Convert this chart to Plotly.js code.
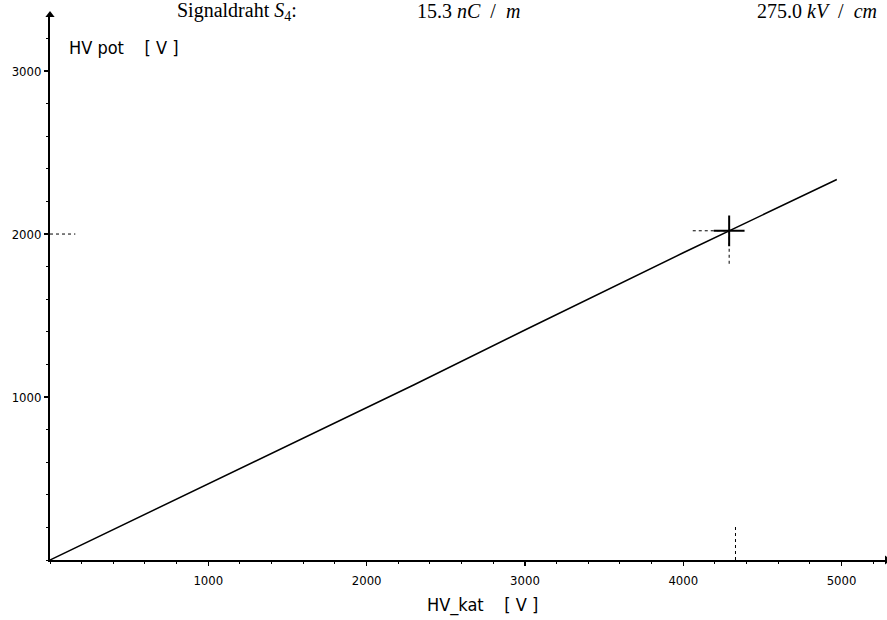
<!DOCTYPE html>
<html>
<head>
<meta charset="utf-8">
<script src="https://cdn.plot.ly/plotly-3.0.1.min.js"></script>
<style>body{margin:0;background:#fff}#chart{width:887px;height:620px}</style>
</head>
<body>
<div id="chart"></div>
<script>
// Data
var hvKat = [0, 1000, 2000, 2300, 3000, 4000, 4970];
var hvPot = [0, 467, 939, 1075, 1411, 1885, 2335];
// working point (cross marker)
var markX = [4290];
var markY = [2020];
var xTickVals = [1000, 2000, 3000, 4000, 5000];
var xTickText = ['1000', '2000', '3000', '4000', '5000'];
var yTickVals = [1000, 2000, 3000];
var yTickText = ['1000', '2000', '3000'];
var headerTexts = ['Signaldraht <i>S</i><sub>4</sub>:', '15.3 <i>nC</i>  /  <i>m</i>', '275.0 <i>kV</i>  /  <i>cm</i>'];
var xTitle = 'HV_kat    [ V ]';
var yTitle = 'HV pot    [ V ]';
var xMax = 5287, yMax = 3344;

var tickFont = {family: 'Liberation Sans Narrow, DejaVu Sans Condensed, sans-serif', size: 13, color: '#000'};
var labFont = {family: 'Liberation Sans Narrow, DejaVu Sans Condensed, sans-serif', size: 18, color: '#000'};
var serif = {family: 'Liberation Serif, DejaVu Serif, serif', size: 20, color: '#000'};

var traces = [
  {x: hvKat, y: hvPot, mode: 'lines', line: {color: '#000', width: 1.5}, hoverinfo: 'skip', showlegend: false},
  {x: markX, y: markY, mode: 'markers', marker: {symbol: 'cross-thin', size: 22, line: {color: '#000', width: 2}}, showlegend: false},
  {x: [0], y: [yMax], mode: 'markers', cliponaxis: false, marker: {symbol: 'triangle-up', size: 8, color: '#000'}, showlegend: false},
  {x: [xMax], y: [0], mode: 'markers', cliponaxis: false, marker: {symbol: 'triangle-right', size: 8, color: '#000'}, showlegend: false}
];

var layout = {
  width: 887, height: 620,
  margin: {l: 50, r: 0, t: 15, b: 60},
  paper_bgcolor: '#fff', plot_bgcolor: '#fff',
  showlegend: false,
  xaxis: {
    range: [0, xMax], showgrid: false, zeroline: false,
    showline: true, linecolor: '#000', linewidth: 2,
    tickvals: xTickVals, ticktext: xTickText,
    ticks: 'outside', ticklen: 4, tickwidth: 1.5, tickcolor: '#000',
    minor: {dtick: 200, tick0: 0, ticks: 'outside', ticklen: 2, tickcolor: '#000', tickwidth: 1},
    tickfont: tickFont, ticklabelstandoff: 3
  },
  yaxis: {
    range: [0, yMax], showgrid: false, zeroline: false,
    showline: true, linecolor: '#000', linewidth: 2,
    tickvals: yTickVals, ticktext: yTickText,
    ticks: 'outside', ticklen: 4, tickwidth: 1.5, tickcolor: '#000',
    minor: {dtick: 200, tick0: 0, ticks: 'outside', ticklen: 2, tickcolor: '#000', tickwidth: 1},
    tickfont: tickFont
  },
  shapes: [
    {type: 'line', xref: 'x', yref: 'y', x0: 0, x1: 160, y0: 2000, y1: 2000, line: {color: '#000', width: 1, dash: 'dot'}},
    {type: 'line', xref: 'x', yref: 'y', x0: 4060, x1: markX[0], y0: markY[0], y1: markY[0], line: {color: '#000', width: 1, dash: 'dot'}},
    {type: 'line', xref: 'x', yref: 'y', x0: markX[0], x1: markX[0], y0: markY[0], y1: 1810, line: {color: '#000', width: 1, dash: 'dot'}},
    {type: 'line', xref: 'x', yref: 'y', x0: 4330, x1: 4330, y0: 0, y1: 215, line: {color: '#000', width: 1, dash: 'dot'}}
  ],
  annotations: [
    {xref: 'paper', yref: 'paper', x: (175 - 50) / 837, y: 1 + 4 / 545, xanchor: 'left', yanchor: 'middle', text: headerTexts[0], showarrow: false, font: serif},
    {xref: 'paper', yref: 'paper', x: (415 - 50) / 837, y: 1 + 4 / 545, xanchor: 'left', yanchor: 'middle', text: headerTexts[1], showarrow: false, font: serif},
    {xref: 'paper', yref: 'paper', x: (755 - 50) / 837, y: 1 + 4 / 545, xanchor: 'left', yanchor: 'middle', text: headerTexts[2], showarrow: false, font: serif},
    {xref: 'paper', yref: 'paper', x: (67 - 50) / 837, y: 1 - 32 / 545, xanchor: 'left', yanchor: 'middle', text: yTitle, showarrow: false, font: labFont},
    {xref: 'paper', yref: 'paper', x: (425 - 50) / 837, y: -45 / 545, xanchor: 'left', yanchor: 'middle', text: xTitle, showarrow: false, font: labFont}
  ]
};

Plotly.newPlot('chart', traces, layout, {displayModeBar: false, staticPlot: true});
</script>
</body>
</html>
